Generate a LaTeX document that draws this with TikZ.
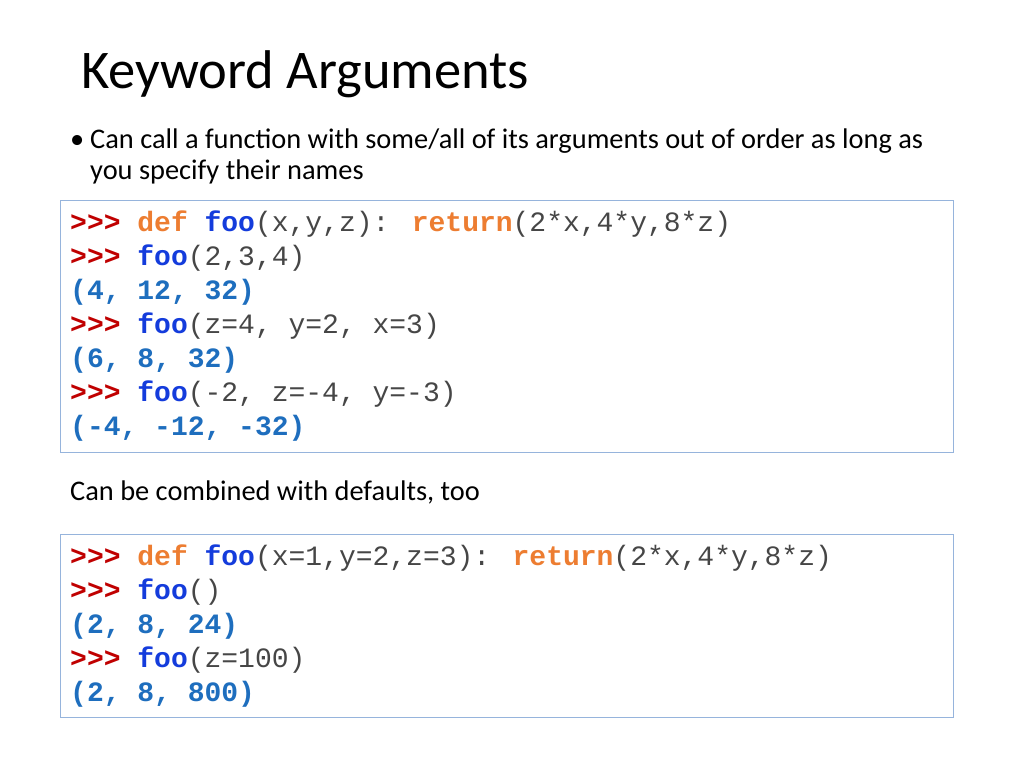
\documentclass[tikz,border=0pt]{standalone}
\usepackage{fontspec}
\setmainfont{Carlito}
\newfontfamily\codefont{Liberation Mono}
\definecolor{pr}{RGB}{192,0,0}
\definecolor{kw}{RGB}{237,125,49}
\definecolor{fn}{RGB}{20,60,220}
\definecolor{outc}{RGB}{30,110,190}
\definecolor{txt}{RGB}{70,70,70}
\definecolor{bx}{RGB}{150,180,220}
\newcommand{\cPr}{\textbf{\textcolor{pr}{>>>}} }
\newcommand{\cKw}[1]{\textbf{\textcolor{kw}{#1}}}
\newcommand{\cFn}[1]{\textbf{\textcolor{fn}{#1}}}
\newcommand{\cOut}[1]{\textbf{\textcolor{outc}{#1}}}
\begin{document}
\begin{tikzpicture}[x=1pt,y=-1pt,
  code/.style={anchor=base west,inner sep=0,font=\codefont\fontsize{28}{28}\selectfont,text=txt},
  body/.style={anchor=base west,inner sep=0,font=\fontsize{28.4}{32}\selectfont,text=black},
  box/.style={draw=bx,line width=1pt}]
\useasboundingbox[fill=white] (0,0) rectangle (1024,768);
\node[anchor=base west,inner sep=0,font=\fontsize{54.5}{58}\selectfont] (title) at (81,88) {Keyword Arguments};
\node[body] (bul) at (70,148) {•};
\node[body] (b1) at (90,148) {Can call a function with some/all of its arguments out of order as long as};
\node[body] (b2) at (90,179) {you specify their names};
\draw[box] (60,200) rectangle (953,452);
\node[code] (c1) at (70,231) {\cPr\cKw{def} \cFn{foo}(x,y,z): \cKw{return}(2*x,4*y,8*z)};
\node[code] (c2) at (70,265) {\cPr\cFn{foo}(2,3,4)};
\node[code] (c3) at (70,299) {\cOut{(4, 12, 32)}};
\node[code] (c4) at (70,333) {\cPr\cFn{foo}(z=4, y=2, x=3)};
\node[code] (c5) at (70,367) {\cOut{(6, 8, 32)}};
\node[code] (c6) at (70,401) {\cPr\cFn{foo}(-2, z=-4, y=-3)};
\node[code] (c7) at (70,435) {\cOut{(-4, -12, -32)}};
\node[body] (mid) at (70,500) {Can be combined with defaults, too};
\draw[box] (60,534) rectangle (953,717);
\node[code] (d1) at (70,565) {\cPr\cKw{def} \cFn{foo}(x=1,y=2,z=3): \cKw{return}(2*x,4*y,8*z)};
\node[code] (d2) at (70,599) {\cPr\cFn{foo}()};
\node[code] (d3) at (70,633) {\cOut{(2, 8, 24)}};
\node[code] (d4) at (70,667) {\cPr\cFn{foo}(z=100)};
\node[code] (d5) at (70,701) {\cOut{(2, 8, 800)}};
\end{tikzpicture}
\end{document}
